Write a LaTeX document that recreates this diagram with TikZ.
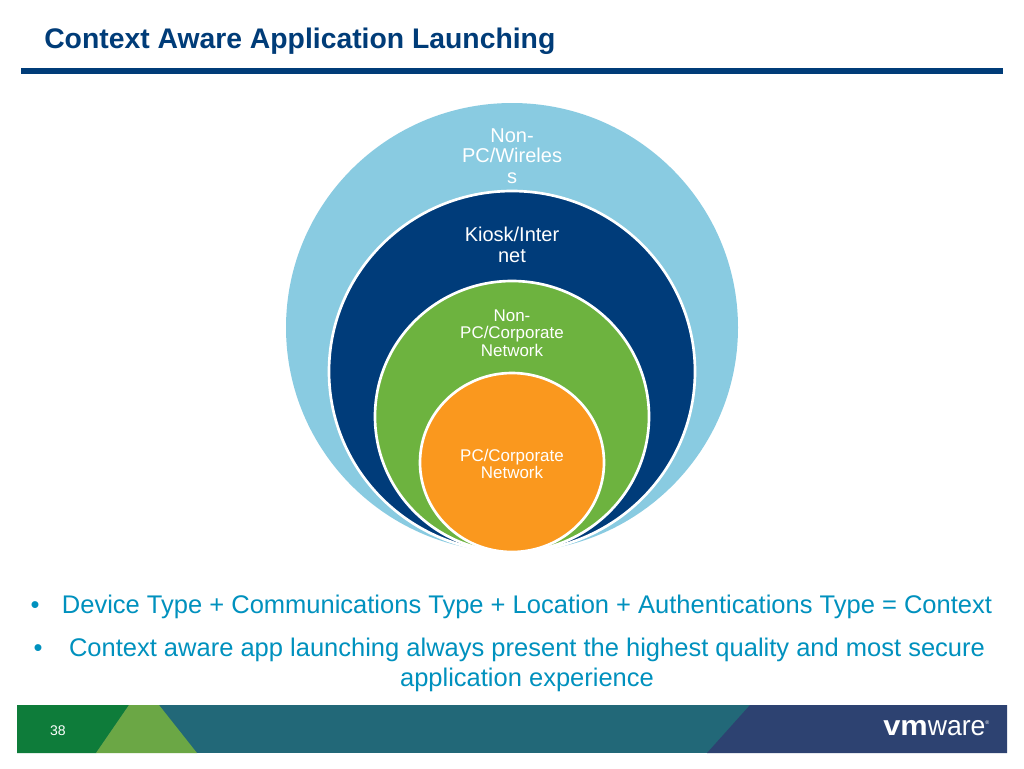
\documentclass[tikz,border=0pt]{standalone}
\usepackage{fontspec}
\setmainfont{Liberation Sans}
\usetikzlibrary{shapes.geometric}
\definecolor{titleblue}{RGB}{0, 60, 120}
\definecolor{skyring}{RGB}{137, 203, 225}
\definecolor{navyring}{RGB}{0, 60, 122}
\definecolor{greenring}{RGB}{109, 179, 63}
\definecolor{orangering}{RGB}{250, 152, 30}
\definecolor{bullettext}{RGB}{0, 145, 190}
\definecolor{bargreen}{RGB}{14, 124, 58}
\definecolor{barlime}{RGB}{107, 167, 69}
\definecolor{barteal}{RGB}{34, 104, 120}
\definecolor{barnavy}{RGB}{45, 66, 113}
\tikzset{
  ring/.style 2 args={ellipse, draw=white, line width=2pt, inner sep=0pt, minimum width=#1*0.75pt, minimum height=#2*0.75pt},
  ringlabel/.style={text=white, align=center, inner sep=0pt},
  bullet/.style={text=bullettext, align=center, inner sep=0pt, font=\fontsize{19.13pt}{23pt}\selectfont}
}
\begin{document}
\begin{tikzpicture}[x=0.75pt, y=-0.75pt]
  \useasboundingbox (0, 0) rectangle (1024, 768);
  \fill[white] (0, 0) rectangle (1024, 768);

  % Heading
  \node[anchor=base west, inner sep=0pt, text=titleblue, font=\bfseries\fontsize{21.25pt}{25pt}\selectfont] (heading) at (44, 48) {Context Aware Application Launching};
  \fill[titleblue] (21, 68) rectangle (1003, 74);

  % Rings
  \node[ring={452}{449}, fill=skyring, draw=none] (wireless) at (512, 327.5) {};
  \node[ring={366}{361}, fill=navyring] (kiosk) at (512, 371.5) {};
  \node[ring={274}{271}, fill=greenring] (corpnet) at (512, 416.5) {};
  \node[ring={184}{179}, fill=orangering] (pcnet) at (512, 462.5) {};

  % Ring labels
  \node[ringlabel, font=\fontsize{15pt}{15.5pt}\selectfont] (wirelesslabel) at (512, 156) {Non-\\PC/Wireles\\s};
  \node[ringlabel, font=\fontsize{15pt}{15.5pt}\selectfont] (kiosklabel) at (512, 245) {Kiosk/Inter\\net};
  \node[ringlabel, font=\fontsize{12.7pt}{13pt}\selectfont] (corplabel) at (512, 333) {Non-\\PC/Corporate\\Network};
  \node[ringlabel, font=\fontsize{12.7pt}{13pt}\selectfont] (pclabel) at (512, 464) {PC/Corporate\\Network};

  % Bullets
  \node[bullet, anchor=base] (lineone) at (527, 613) {Device Type + Communications Type + Location + Authentications Type = Context};
  \node[bullet, anchor=base] (linetwo) at (527, 656) {Context aware app launching always present the highest quality and most secure};
  \node[bullet, anchor=base] (linethree) at (527, 686) {application experience};
  \node[bullet, anchor=base] (dotone) at (35, 613) {•};
  \node[bullet, anchor=base] (dottwo) at (38, 656) {•};

  % Footer bar
  \fill[barteal] (17, 705) rectangle (1007, 753);
  \fill[bargreen] (17, 705) -- (129, 705) -- (96, 753) -- (17, 753) -- cycle;
  \fill[barlime] (129, 705) -- (159, 705) -- (197, 753) -- (96, 753) -- cycle;
  \fill[barnavy] (750, 705) -- (1007, 705) -- (1007, 753) -- (707, 753) -- cycle;
  \node[text=white, inner sep=0pt, font=\fontsize{10.5pt}{12pt}\selectfont] (pagenum) at (58, 731) {38};
  \node[anchor=base west, text=white, inner sep=0pt, font=\fontsize{21pt}{22pt}\selectfont] (logo) at (883, 735) {\scalebox{1.1}[1]{\textbf{vm}}\scalebox{0.95}[1]{ware}\raisebox{8pt}{\fontsize{4pt}{4pt}\selectfont ®}};
\end{tikzpicture}
\end{document}
